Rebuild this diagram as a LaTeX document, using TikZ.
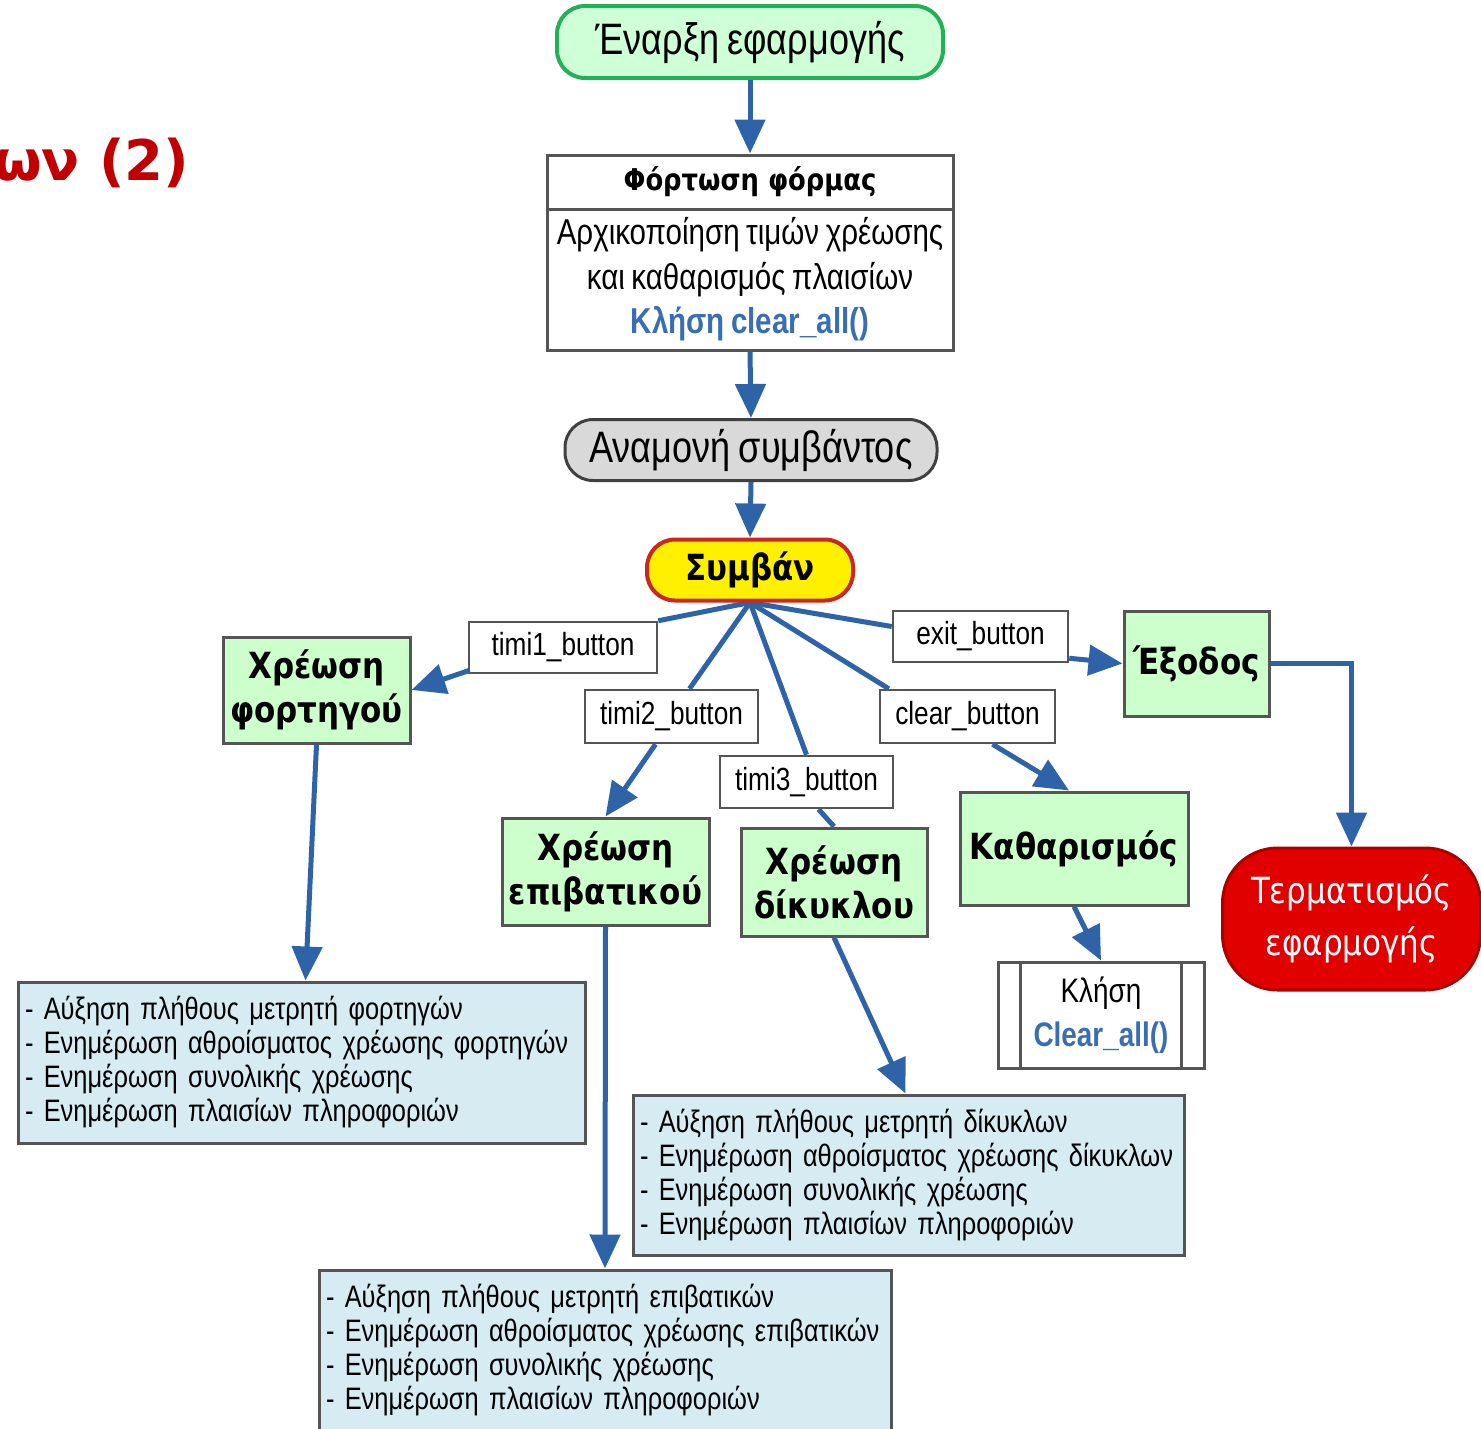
\documentclass[tikz,border=0pt]{standalone}
\usepackage{fontspec}
\setmainfont{Liberation Sans}[FakeStretch=0.82,WordSpace=0.8]
\newfontfamily\hdfont{DejaVu Sans}[FakeStretch=0.86]
\newfontfamily\titlefont{DejaVu Sans}
\usetikzlibrary{arrows.meta,calc,backgrounds}
\definecolor{conn}{RGB}{47,99,167}
\definecolor{lgreen}{RGB}{204,255,204}
\definecolor{startgreen}{RGB}{36,176,88}
\definecolor{startfill}{RGB}{206,255,214}
\definecolor{boxline}{RGB}{85,85,85}
\definecolor{lblue}{RGB}{214,235,242}
\definecolor{callblue}{RGB}{58,110,176}
\definecolor{titlered}{RGB}{192,0,0}
\definecolor{evyellow}{RGB}{255,240,0}
\definecolor{evred}{RGB}{200,40,30}
\definecolor{termred}{RGB}{224,0,0}
\definecolor{termline}{RGB}{170,0,0}
\newcommand\myfs[2]{\fontsize{#1}{#2}\selectfont}
\begin{document}
\begin{tikzpicture}[x=1pt,y=-1pt,
  plainbox/.style={draw=boxline,line width=3pt,fill=white,inner sep=0pt,align=center},
  btn/.style={draw=boxline,line width=2.5pt,fill=white,inner sep=0pt,font=\myfs{32}{36}},
  gbox/.style={draw=boxline,line width=3pt,fill=lgreen,inner sep=0pt,align=center,font=\hdfont\bfseries\myfs{36}{44}},
  listbox/.style={draw=boxline,line width=3pt,fill=lblue,inner xsep=7pt,inner ysep=0pt,align=left,font=\myfs{31}{34}},
  pill/.style={rounded corners=28pt,inner sep=0pt,align=center},
  conline/.style={draw=conn,line width=5pt},
  conarrow/.style={conline,-{Triangle[length=34pt,width=30pt]}}
]
\useasboundingbox (0,0) rectangle (1481,1428);
\node[anchor=east,text=titlered,font=\titlefont\bfseries\myfs{56}{60}] (title) at (193,163) {ων (2)};

\node[pill,draw=startgreen,fill=startfill,line width=4pt,minimum width=386pt,minimum height=72pt,font=\myfs{44}{50}] (start) at (750,42) {Έναρξη εφαρμογής};
\node[plainbox,minimum width=406pt,minimum height=54pt,font=\hdfont\bfseries\myfs{30}{36}] (fhead) at (750,182) {Φόρτωση φόρμας};
\node[plainbox,minimum width=406pt,minimum height=141pt,font=\myfs{36}{44.5}] (fbody) at (750,279.5) {Αρχικοποίηση τιμών χρέωσης\\και καθαρισμός πλαισίων\\{\color{callblue}\bfseries Κλήση clear\_all()}};
\node[pill,draw=black!75,fill=black!15,line width=3pt,minimum width=372pt,minimum height=61pt,font=\myfs{44}{50}] (wait) at (751,450) {Αναμονή συμβάντος};
\node[pill,draw=evred,fill=evyellow,line width=4pt,minimum width=206pt,minimum height=61pt,font=\hdfont\bfseries\myfs{36}{44}] (sym) at (750,570) {Συμβάν};

\node[btn,minimum width=188pt,minimum height=51pt] (t1) at (563,647.5) {timi1\_button};
\node[btn,minimum width=173pt,minimum height=53pt] (t2) at (671.5,716.5) {timi2\_button};
\node[btn,minimum width=173pt,minimum height=52pt] (t3) at (806.5,782) {timi3\_button};
\node[btn,minimum width=175pt,minimum height=53pt] (clr) at (967.5,716.5) {clear\_button};
\node[btn,minimum width=175pt,minimum height=51pt] (exit) at (980.5,636.5) {exit\_button};

\node[gbox,minimum width=187pt,minimum height=106pt] (fort) at (316.5,690) {Χρέωση\\φορτηγού};
\node[gbox,minimum width=207pt,minimum height=107pt] (epi) at (605.5,871.5) {Χρέωση\\επιβατικού};
\node[gbox,minimum width=186pt,minimum height=108pt] (dik) at (834,882) {Χρέωση\\δίκυκλου};
\node[gbox,minimum width=228pt,minimum height=113pt] (kath) at (1074,848.5) {Καθαρισμός};
\node[gbox,minimum width=145pt,minimum height=105pt] (exo) at (1196.5,663.5) {Έξοδος};
\node[pill,rounded corners=55pt,draw=termline,fill=termred,line width=3pt,text=white,minimum width=258pt,minimum height=142pt,font=\hdfont\myfs{36}{52}] (term) at (1351.5,919) {Τερματισμός\\εφαρμογής};

\node[plainbox,minimum width=206pt,minimum height=106pt,font=\myfs{34}{44}] (call) at (1101,1015) {Κλήση\\{\color{callblue}\bfseries Clear\_all()}};
\draw[boxline,line width=2.5pt] ($(call.north west)+(24,0)$) -- ($(call.south west)+(24,0)$);
\draw[boxline,line width=2.5pt] ($(call.north east)+(-24,0)$) -- ($(call.south east)+(-24,0)$);

\node[listbox,minimum width=567pt,minimum height=161pt,text width=553pt] (box1) at (301.5,1062.5) {- Αύξηση πλήθους μετρητή φορτηγών\\- Ενημέρωση αθροίσματος χρέωσης φορτηγών\\- Ενημέρωση συνολικής χρέωσης\\- Ενημέρωση πλαισίων πληροφοριών};
\node[listbox,minimum width=551pt,minimum height=160pt,text width=537pt] (box2) at (908.5,1175) {- Αύξηση πλήθους μετρητή δίκυκλων\\- Ενημέρωση αθροίσματος χρέωσης δίκυκλων\\- Ενημέρωση συνολικής χρέωσης\\- Ενημέρωση πλαισίων πληροφοριών};
\node[listbox,minimum width=572pt,minimum height=160pt,text width=558pt] (box3) at (605,1350) {- Αύξηση πλήθους μετρητή επιβατικών\\- Ενημέρωση αθροίσματος χρέωσης επιβατικών\\- Ενημέρωση συνολικής χρέωσης\\- Ενημέρωση πλαισίων πληροφοριών};

\begin{scope}[on background layer]
\draw[conline] (sym.south) -- (t1.north east);
\draw[conline] (sym.south) -- ($(t2.north)+(18,0)$);
\draw[conline] (sym.south) -- (t3.north);
\draw[conline] (sym.south) -- ($(clr.north west)+(10,0)$);
\draw[conline] (sym.south) -- ($(exit.west)+(0,-10)$);
\draw[conline] ($(t3.south)+(12,0)$) -- (dik.north);
\end{scope}

\draw[conarrow] (start.south) -- (fhead.north);
\draw[conarrow] (fbody.south) -- (wait.north);
\draw[conarrow] (wait.south) -- (sym.north);
\draw[conarrow] ($(t1.south west)+(2,-4)$) -- (fort.east);
\draw[conarrow] ($(t2.south)+(-16,0)$) -- (epi.north);
\draw[conarrow] ($(clr.south)+(25,0)$) -- ($(kath.north)+(-5,0)$);
\draw[conarrow] ($(exit.south east)+(0,-5)$) -- (exo.west);
\draw[conarrow] (exo.east) -| (term.north);
\draw[conarrow] (kath.south) -- (call.north);
\draw[conarrow] (fort.south) -- ($(box1.north)+(4,0)$);
\draw[conarrow] (epi.south) -- (box3.north);
\draw[conarrow] (dik.south) -- ($(box2.north)+(-3,0)$);
\end{tikzpicture}
\end{document}
